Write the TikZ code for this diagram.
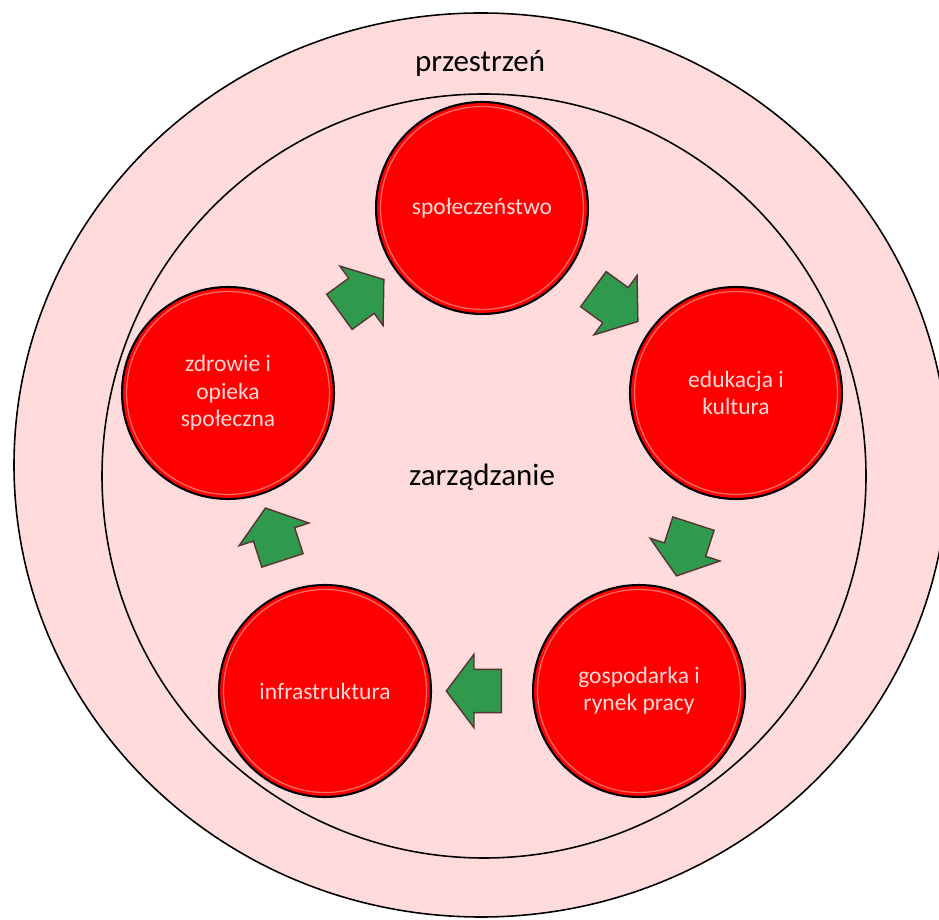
\documentclass[tikz,border=0pt]{standalone}
\usepackage{fontspec}
\setmainfont{Carlito}
\usetikzlibrary{shapes,arrows,calc}
\definecolor{bgpink}{HTML}{FFDBDB}
\definecolor{ballred}{HTML}{FF0000}
\definecolor{ballrim}{HTML}{FF6A6A}
\definecolor{arrowgreen}{HTML}{2F9A4E}
\definecolor{arrowedge}{HTML}{5A3232}
\definecolor{labelpink}{HTML}{FFD7D7}
\tikzset{
  ball/.style={
    circle,
    minimum size=4.24cm,
    inner sep=0pt,
    fill=ballred,
    draw=black,
    line width=1.2pt,
    text=labelpink,
    align=center,
    font=\fontsize{13.4}{15.6}\selectfont,
    path picture={\draw[ballrim, line width=0.7pt]
      (path picture bounding box.center) circle (2.03cm);},
  },
  flow/.style={
    single arrow,
    draw=arrowedge,
    fill=arrowgreen,
    line width=0.8pt,
    inner xsep=0pt,
    inner ysep=0.42cm,
    minimum height=1.1cm,
    single arrow head extend=0.3cm,
    single arrow tip angle=106,
  },
  big/.style={font=\fontsize{17.6}{21}\selectfont}
}

\begin{document}
\begin{tikzpicture}[x=0.02cm, y=0.02cm]
      \useasboundingbox (0,0) rectangle (939,919);
      % space and management
      \draw[fill=bgpink, line width=0.9pt] (481,454) ellipse [x radius=467, y radius=452];
      \draw[fill=bgpink, line width=0.9pt] (484,443) circle [radius=382];
      \node[big] (space) at (480,856) {przestrzeń};
      \node[big] (mgmt) at (482,442) {zarządzanie};

      % the five areas
      \node[ball] (society) at (482,711) {społeczeństwo};
      \node[ball] (education) at (736,526) {edukacja i\\kultura};
      \node[ball] (economy) at (639,228) {gospodarka i\\rynek pracy};
      \node[ball] (infra) at (325,228) {infrastruktura};
      \node[ball] (health) at (228,526) {zdrowie i\\opieka\\społeczna};

      % cycle arrows
      \node[flow, rotate=-36] (a1) at ($(society)!0.5!(education)$) {};
      \node[flow, rotate=-108] (a2) at ($(education)!0.5!(economy)$) {};
      \node[flow, rotate=180] (a3) at ($(economy)!0.5!(infra)$) {};
      \node[flow, rotate=108] (a4) at ($(infra)!0.5!(health)$) {};
      \node[flow, rotate=36] (a5) at ($(health)!0.5!(society)$) {};
\end{tikzpicture}
\end{document}
